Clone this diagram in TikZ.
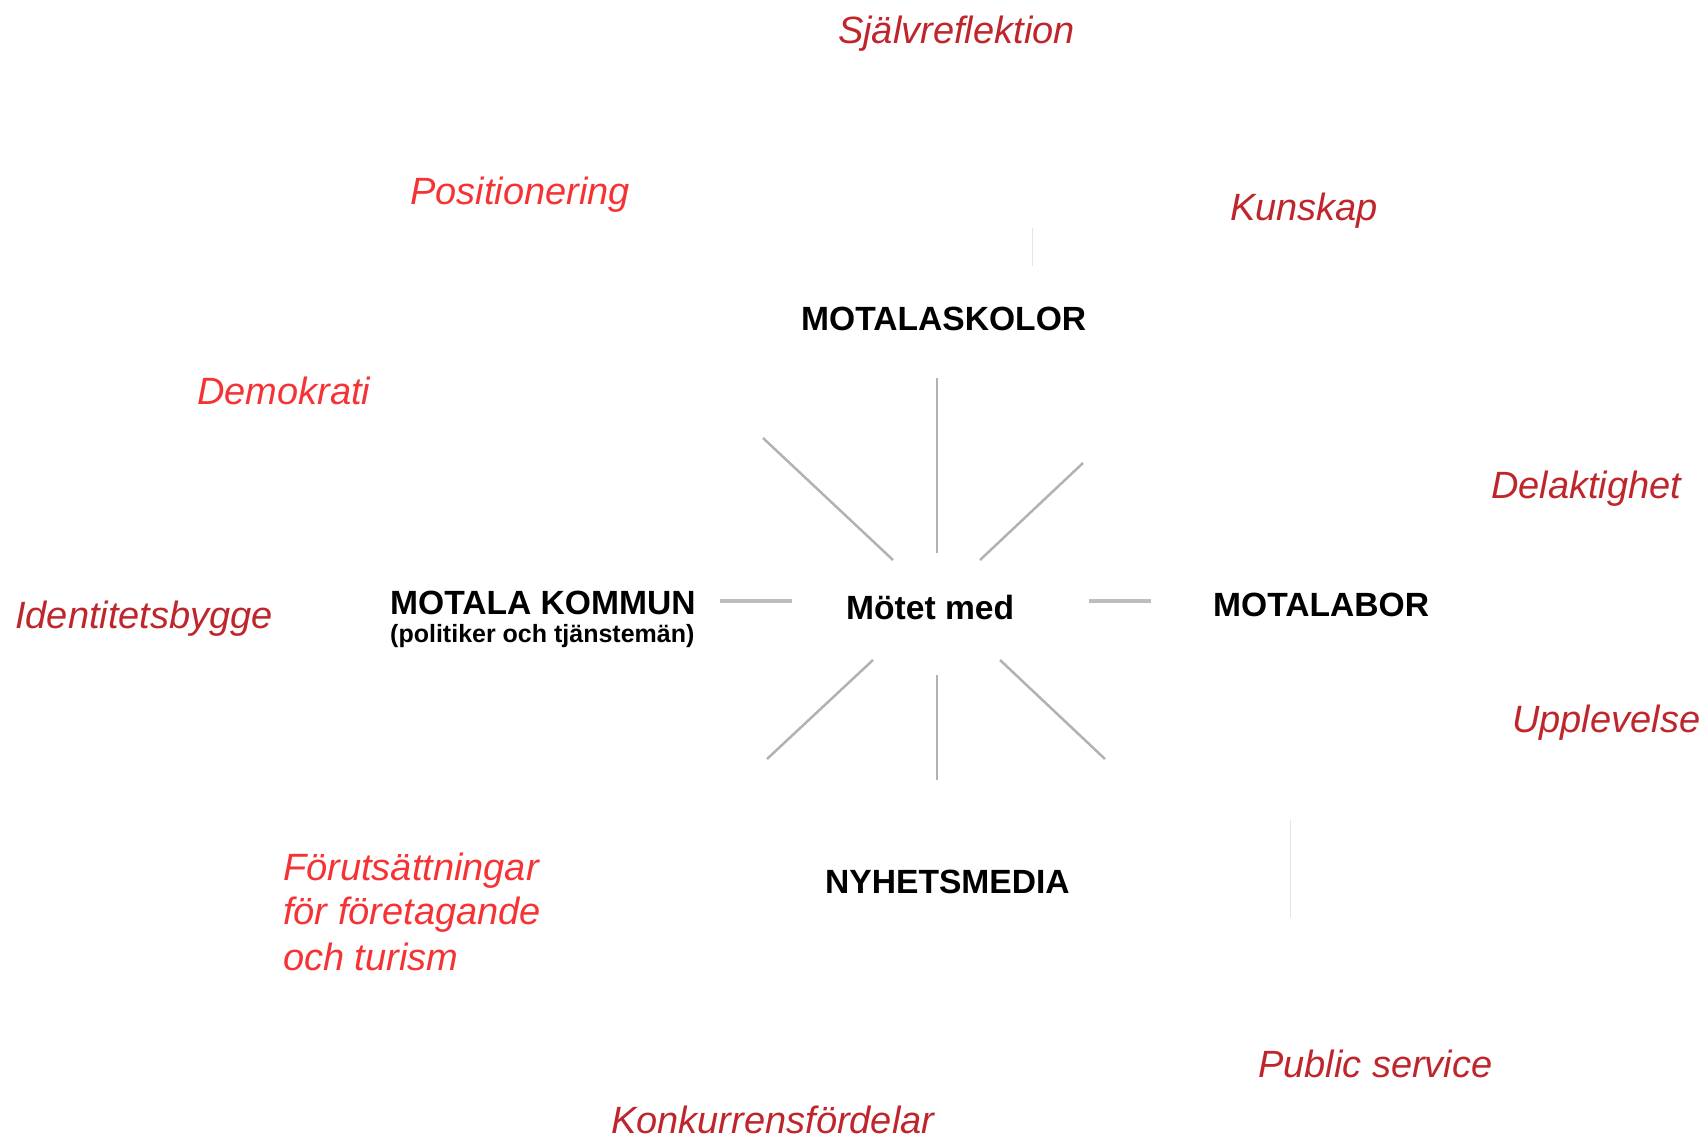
\documentclass[tikz,border=0pt]{standalone}
\usepackage{fontspec}
\setmainfont{Liberation Sans}
\usepackage{tikz}
\usetikzlibrary{positioning}
\usepackage{color}
\definecolor{darkrose}{RGB}{190,38,44}
\definecolor{brightrose}{RGB}{245,50,52}
\definecolor{spokegray}{RGB}{178,178,178}

\begin{document}
\begin{tikzpicture}[x=1pt,y=1pt]
\tikzstyle{every node}+=[inner sep=0pt,anchor=base west]
\tikzstyle{actor}=[font=\fontsize{33.6}{40}\selectfont\bfseries]
\tikzstyle{actorsub}=[font=\fontsize{25}{28}\selectfont\bfseries]
\tikzstyle{value}=[font=\fontsize{38}{45}\selectfont\itshape,text=darkrose]
\tikzstyle{valuehot}=[value,text=brightrose]
\tikzstyle{spoke}=[spokegray,line width=2.5pt]
\tikzstyle{flatspoke}=[spoke,spokegray!85,line width=3.5pt]
\useasboundingbox (0,0) rectangle (1703,-1138);
% actors
\draw (846,-619) node[actor] (motet) {Mötet med};
\draw (801,-330) node[actor] (skolor) {MOTALASKOLOR};
\draw (390,-614) node[actor] (kommun) {MOTALA KOMMUN};
\node[actorsub] (kommunsub) at ([yshift=-28pt]kommun.base west) {(politiker och tjänstemän)};
\draw (1213,-616) node[actor] (motalabor) {MOTALABOR};
\draw (825,-893) node[actor] (nyhet) {NYHETSMEDIA};
% values
\draw (838,-43) node[value] (sjalv) {Självreflektion};
\draw (410,-204) node[valuehot] (position) {Positionering};
\draw (1230,-220) node[value] (kunskap) {Kunskap};
\draw (197,-404) node[valuehot] (demokrati) {Demokrati};
\draw (1491,-498) node[value] (delakt) {Delaktighet};
\draw (15,-628) node[value] (identitet) {Identitetsbygge};
\draw (1512,-732) node[value] (upplev) {Upplevelse};
\draw (283,-880) node[valuehot] (cond1) {Förutsättningar};
\node[valuehot] (cond2) at ([yshift=-44pt]cond1.base west) {för företagande};
\node[valuehot] (cond3) at ([yshift=-46pt]cond2.base west) {och turism};
\draw (1258,-1077) node[value] (public) {Public service};
\draw (611,-1133) node[value] (konkur) {Konkurrensfördelar};
% spokes round the meeting
\foreach \n/\xa/\ya/\xb/\yb in {1/937/378/937/553, 2/763/438/893/560, 3/1083/463/980/560,
  4/720/601/792/601, 5/1089/601/1151/601, 6/873/660/767/759, 7/937/675/937/780, 8/1000/660/1105/759}
{
  \coordinate (a\n) at (\xa,-\ya);
  \coordinate (b\n) at (\xb,-\yb);
}
\foreach \n in {1,2,3,6,7,8}
  \draw[spoke] (a\n) -- (b\n);
\foreach \n in {4,5}
  \draw[flatspoke] (a\n) -- (b\n);
% faint leftovers
\coordinate (f1) at (1032,-228);
\coordinate (f2) at (1032,-266);
\coordinate (f3) at (1290,-820);
\coordinate (f4) at (1290,-918);
\draw[black!10,line width=1pt] (f1) -- (f2);
\draw[black!10,line width=1pt] (f3) -- (f4);
\end{tikzpicture}
\end{document}
